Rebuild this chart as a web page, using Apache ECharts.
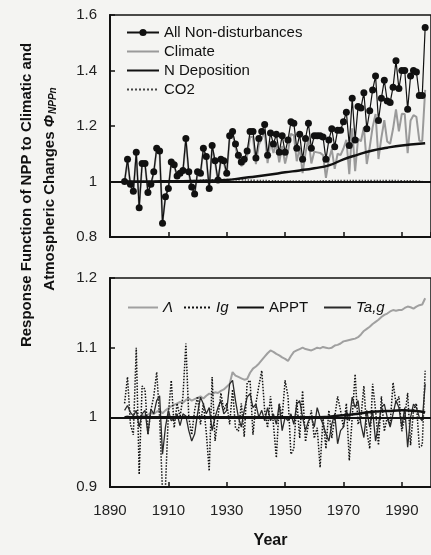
<!DOCTYPE html>
<html>
<head>
<meta charset="utf-8">
<script src="https://cdn.jsdelivr.net/npm/echarts@6/dist/echarts.min.js"></script>
<style>
  html, body { margin: 0; padding: 0; background: #f4f4f2; }
  #chart { width: 431px; height: 555px; }
</style>
</head>
<body>
<div id="chart"></div>
<script>
// Annual values, 1895-1998
const years = [
  1895,1896,1897,1898,1899,1900,1901,1902,1903,1904,
  1905,1906,1907,1908,1909,1910,1911,1912,1913,1914,
  1915,1916,1917,1918,1919,1920,1921,1922,1923,1924,
  1925,1926,1927,1928,1929,1930,1931,1932,1933,1934,
  1935,1936,1937,1938,1939,1940,1941,1942,1943,1944,
  1945,1946,1947,1948,1949,1950,1951,1952,1953,1954,
  1955,1956,1957,1958,1959,1960,1961,1962,1963,1964,
  1965,1966,1967,1968,1969,1970,1971,1972,1973,1974,
  1975,1976,1977,1978,1979,1980,1981,1982,1983,1984,
  1985,1986,1987,1988,1989,1990,1991,1992,1993,1994,
  1995,1996,1997,1998
];

// Upper panel: response function of NPP
const allNonDisturbances = [
  1.00,1.08,0.99,0.965,1.105,0.905,1.065,1.065,0.96,0.99,
  1.035,1.12,1.11,0.85,0.945,0.975,1.07,1.06,1.02,1.03,
  1.04,1.155,1.035,0.98,0.955,1.035,1.03,1.12,1.09,0.975,
  1.13,1.075,1.005,1.08,1.075,1.03,1.165,1.18,1.135,1.095,
  1.07,1.08,1.11,1.18,1.18,1.085,1.155,1.18,1.205,1.095,
  1.175,1.135,1.17,1.105,1.165,1.105,1.15,1.215,1.21,1.12,
  1.17,1.08,1.155,1.21,1.12,1.165,1.165,1.165,1.16,1.08,
  1.15,1.19,1.125,1.185,1.185,1.215,1.25,1.13,1.30,1.15,
  1.27,1.265,1.32,1.19,1.255,1.33,1.38,1.22,1.30,1.365,
  1.29,1.285,1.34,1.435,1.335,1.40,1.40,1.26,1.38,1.40,
  1.395,1.31,1.31,1.555
];
const climate = [
  1.00,1.075,0.985,0.96,1.10,0.91,1.06,1.06,0.965,0.99,
  1.03,1.115,1.105,0.855,0.945,0.975,1.065,1.055,1.02,1.025,
  1.035,1.15,1.03,0.975,0.955,1.03,1.025,1.115,1.085,0.97,
  1.125,1.07,1.0,1.075,1.068,1.024,1.158,1.172,1.124,1.083,
  1.056,1.064,1.093,1.161,1.16,1.063,1.132,1.155,1.179,1.066,
  1.145,1.103,1.136,1.069,1.128,1.065,1.109,1.172,1.166,1.073,
  1.122,1.03,1.103,1.156,1.065,1.107,1.105,1.103,1.095,1.013,
  1.08,1.116,1.046,1.10,1.095,1.119,1.15,1.026,1.192,1.037,
  1.154,1.145,1.196,1.063,1.124,1.196,1.243,1.081,1.158,1.221,
  1.144,1.136,1.19,1.26,1.181,1.244,1.243,1.102,1.22,1.239,
  1.233,1.147,1.146,1.33
];
const trendYears = [1895,1900,1905,1910,1915,1920,1925,1930,1935,1940,1945,
                    1950,1955,1960,1965,1970,1975,1980,1985,1990,1995,1998];
const nDeposition = [1.0,1.0,1.0,1.001,1.001,1.002,1.003,1.005,1.012,1.018,1.025,
                     1.033,1.04,1.048,1.058,1.08,1.097,1.112,1.122,1.13,1.135,1.138];
const co2 = [1.0,1.0,1.0,1.0,1.002,1.004,1.006,1.007,1.006,1.004,1.003,
             1.002,1.002,1.002,1.003,1.004,1.004,1.004,1.004,1.003,1.002,0.998];

// Lower panel: individual factors
const lambda = [
  1.0,1.002,1.0,0.998,1.001,1.0,1.003,1.002,1.004,1.006,
  1.005,1.008,1.01,1.006,1.01,1.013,1.016,1.018,1.02,1.022,
  1.021,1.025,1.027,1.024,1.026,1.028,1.03,1.027,1.031,1.034,
  1.033,1.036,1.035,1.038,1.04,1.044,1.048,1.065,1.06,1.058,
  1.056,1.054,1.055,1.064,1.07,1.073,1.077,1.082,1.087,1.092,
  1.096,1.094,1.091,1.089,1.086,1.084,1.081,1.088,1.094,1.096,
  1.098,1.1,1.098,1.097,1.096,1.098,1.1,1.099,1.101,1.1,
  1.099,1.1,1.103,1.104,1.106,1.109,1.11,1.111,1.112,1.113,
  1.115,1.119,1.124,1.127,1.13,1.134,1.137,1.14,1.144,1.147,
  1.149,1.152,1.154,1.153,1.154,1.154,1.157,1.159,1.158,1.156,
  1.159,1.161,1.162,1.171
];
const ig = [
  1.02,1.058,0.99,0.975,1.10,0.918,1.045,1.04,0.975,1.01,
  1.03,1.065,1.0,0.892,0.90,1.005,1.053,0.985,1.02,1.0,
  1.03,1.106,1.0,0.975,1.01,1.03,0.99,1.02,0.978,0.923,
  1.058,0.966,1.0,1.035,1.01,1.02,0.99,1.04,0.985,0.98,
  1.02,0.972,1.05,1.053,0.975,1.02,1.045,1.067,1.01,0.985,
  1.03,0.99,0.942,1.02,1.0,1.053,1.03,0.947,0.955,1.025,
  0.97,1.038,0.965,0.99,1.01,0.97,0.985,0.928,1.0,0.955,
  1.01,0.97,1.0,1.03,1.01,0.985,1.02,0.938,1.0,1.062,
  0.99,1.0,1.045,0.98,0.955,1.048,1.01,0.96,1.03,0.98,
  1.0,0.99,1.05,1.02,1.03,0.98,1.0,1.035,0.96,1.01,
  1.02,0.957,0.96,1.067
];
const taG = [
  1.01,1.017,1.007,1.002,1.01,0.986,1.005,1.01,0.976,1.012,
  1.005,1.024,1.031,0.947,0.986,1.01,0.995,0.998,1.005,0.988,
  1.005,1.002,0.981,0.966,0.976,1.005,1.029,1.019,1.005,1.014,
  0.981,1.0,1.014,1.024,1.005,1.01,1.048,1.053,1.024,1.0,
  0.986,1.01,1.029,1.034,1.014,1.019,1.0,1.01,0.995,1.014,
  0.995,1.005,0.99,1.019,0.981,1.0,0.995,1.005,0.99,1.019,
  1.024,1.0,0.981,0.995,1.0,0.986,1.014,1.0,0.99,0.976,
  0.966,0.99,1.005,0.962,0.981,0.986,1.01,0.995,1.029,1.014,
  1.024,0.99,0.971,1.01,0.986,1.01,0.966,0.99,1.014,1.019,
  1.0,0.986,1.005,1.024,1.014,0.986,1.014,0.957,1.0,1.019,
  1.014,1.0,0.995,1.048
];
const apptYears = [1895,1960,1965,1970,1975,1980,1985,1990,1995,1998];
const appt = [1.0,1.0,1.001,1.003,1.005,1.008,1.009,1.01,1.009,1.007];

const FONT = '"Liberation Sans", Arial, Helvetica, sans-serif';
const INK = '#111';
const pair = (xs, ys) => xs.map((x, i) => [x, ys[i]]);

const baseline = {
  silent: true,
  symbol: 'none',
  label: { show: false },
  lineStyle: { color: INK, width: 1.8, type: 'solid' },
  data: [{ yAxis: 1 }]
};

function xAxisFor(gridIndex, withLabels) {
  return {
    gridIndex, type: 'value', min: 1890, max: 2000, interval: 20,
    axisLine: { lineStyle: { color: INK, width: 2 } },
    axisTick: { inside: true, length: 5, lineStyle: { color: INK, width: 1.5 } },
    axisLabel: withLabels
      ? { fontSize: 15, color: '#222', margin: 16, showMaxLabel: false, fontFamily: FONT,
          formatter: v => String(v) }
      : { show: false },
    splitLine: { show: false }
  };
}
function yAxisFor(gridIndex, min, max, interval) {
  return {
    gridIndex, type: 'value', min, max, interval,
    axisLine: { show: true, lineStyle: { color: INK, width: 2 } },
    axisTick: { show: true, inside: true, length: 5, lineStyle: { color: INK, width: 1.5 } },
    axisLabel: { fontSize: 15, color: '#222', margin: 13, fontFamily: FONT },
    splitLine: { show: false }
  };
}

const legendText = { fontSize: 15, color: INK, fontFamily: FONT };
const italicText = Object.assign({}, legendText, { fontStyle: 'italic' });
// legend entry drawn as a plain line sample (no marker)
const lineOnly = name => ({ name, itemStyle: { opacity: 0 } });

const chart = echarts.init(document.getElementById('chart'), null, { renderer: 'canvas' });
chart.setOption({
  backgroundColor: '#f4f4f2',
  animation: false,
  textStyle: { fontFamily: FONT },
  grid: [
    { left: 110, top: 15, width: 322, height: 222, show: true, borderColor: INK, borderWidth: 1.5 },
    { left: 110, top: 278, width: 322, height: 209, show: true, borderColor: INK, borderWidth: 1.5 }
  ],
  xAxis: [
    xAxisFor(0, false),
    Object.assign(xAxisFor(1, true), {
      name: 'Year', nameLocation: 'middle', nameGap: 46,
      nameTextStyle: { fontSize: 16, fontWeight: 'bold', color: INK, fontFamily: FONT }
    })
  ],
  yAxis: [
    yAxisFor(0, 0.8, 1.6, 0.2),
    yAxisFor(1, 0.9, 1.2, 0.1)
  ],
  legend: [
    {
      data: [
        { name: 'All Non-disturbances' },
        lineOnly('Climate'),
        lineOnly('N Deposition'),
        lineOnly('CO2')
      ],
      orient: 'vertical', left: 121, top: 20,
      itemWidth: 32, itemHeight: 9, itemGap: 4,
      textStyle: legendText
    },
    { data: [lineOnly('Λ')], left: 122, top: 295, itemWidth: 30, itemHeight: 14, textStyle: italicText },
    { data: [lineOnly('Ig')], left: 178, top: 295, itemWidth: 27, itemHeight: 14, textStyle: italicText },
    { data: [lineOnly('APPT')], left: 231, top: 295, itemWidth: 27, itemHeight: 14, textStyle: legendText },
    { data: [lineOnly('Ta,g')], left: 318, top: 295, itemWidth: 27, itemHeight: 14, textStyle: italicText }
  ],
  graphic: [
    {
      type: 'text', x: 27, y: 195, rotation: Math.PI / 2,
      style: {
        text: 'Response Function of NPP to Climatic and',
        fontSize: 15, fontWeight: 'bold', fontFamily: FONT, fill: INK,
        align: 'center', verticalAlign: 'middle'
      }
    },
    {
      type: 'text', x: 50, y: 189, rotation: Math.PI / 2,
      style: {
        text: '{t|Atmospheric Changes }{p|Φ}{s|NPPn}',
        align: 'center', verticalAlign: 'middle',
        rich: {
          t: { fontSize: 15, fontWeight: 'bold', fontFamily: FONT, fill: INK },
          p: { fontSize: 15, fontWeight: 'bold', fontStyle: 'italic', fontFamily: FONT, fill: INK },
          s: { fontSize: 10, fontWeight: 'bold', fontStyle: 'italic', fontFamily: FONT, fill: INK,
               verticalAlign: 'bottom', padding: [6, 0, 0, 1] }
        }
      }
    }
  ],
  series: [
    {
      name: 'Climate', type: 'line', xAxisIndex: 0, yAxisIndex: 0,
      data: pair(years, climate), symbol: 'none', z: 2,
      color: '#9a9a9a', lineStyle: { width: 2, color: '#9a9a9a' }
    },
    {
      name: 'CO2', type: 'line', xAxisIndex: 0, yAxisIndex: 0,
      data: pair(trendYears, co2), symbol: 'none', smooth: true, z: 2,
      color: '#444', lineStyle: { width: 1.5, type: 'dotted', color: '#444' }
    },
    {
      name: 'N Deposition', type: 'line', xAxisIndex: 0, yAxisIndex: 0,
      data: pair(trendYears, nDeposition), symbol: 'none', smooth: true, z: 3,
      color: INK, lineStyle: { width: 2.5, color: INK },
      markLine: baseline
    },
    {
      name: 'All Non-disturbances', type: 'line', xAxisIndex: 0, yAxisIndex: 0,
      data: pair(years, allNonDisturbances), symbol: 'circle', symbolSize: 7, z: 4,
      color: INK, itemStyle: { color: INK }, lineStyle: { width: 1.2, color: INK }
    },
    {
      name: 'Λ', type: 'line', xAxisIndex: 1, yAxisIndex: 1,
      data: pair(years, lambda), symbol: 'none', z: 2,
      color: '#a0a0a0', lineStyle: { width: 2, color: '#a0a0a0' }
    },
    {
      name: 'Ig', type: 'line', xAxisIndex: 1, yAxisIndex: 1,
      data: pair(years, ig), symbol: 'none', z: 3,
      color: INK, lineStyle: { width: 1.5, type: 'dotted', color: INK }
    },
    {
      name: 'Ta,g', type: 'line', xAxisIndex: 1, yAxisIndex: 1,
      data: pair(years, taG), symbol: 'none', z: 4,
      color: '#2a2a2a', lineStyle: { width: 1.3, color: '#2a2a2a' }
    },
    {
      name: 'APPT', type: 'line', xAxisIndex: 1, yAxisIndex: 1,
      data: pair(apptYears, appt), symbol: 'none', smooth: true, z: 5,
      color: INK, lineStyle: { width: 2.5, color: INK },
      markLine: baseline
    }
  ]
});
</script>
</body>
</html>
